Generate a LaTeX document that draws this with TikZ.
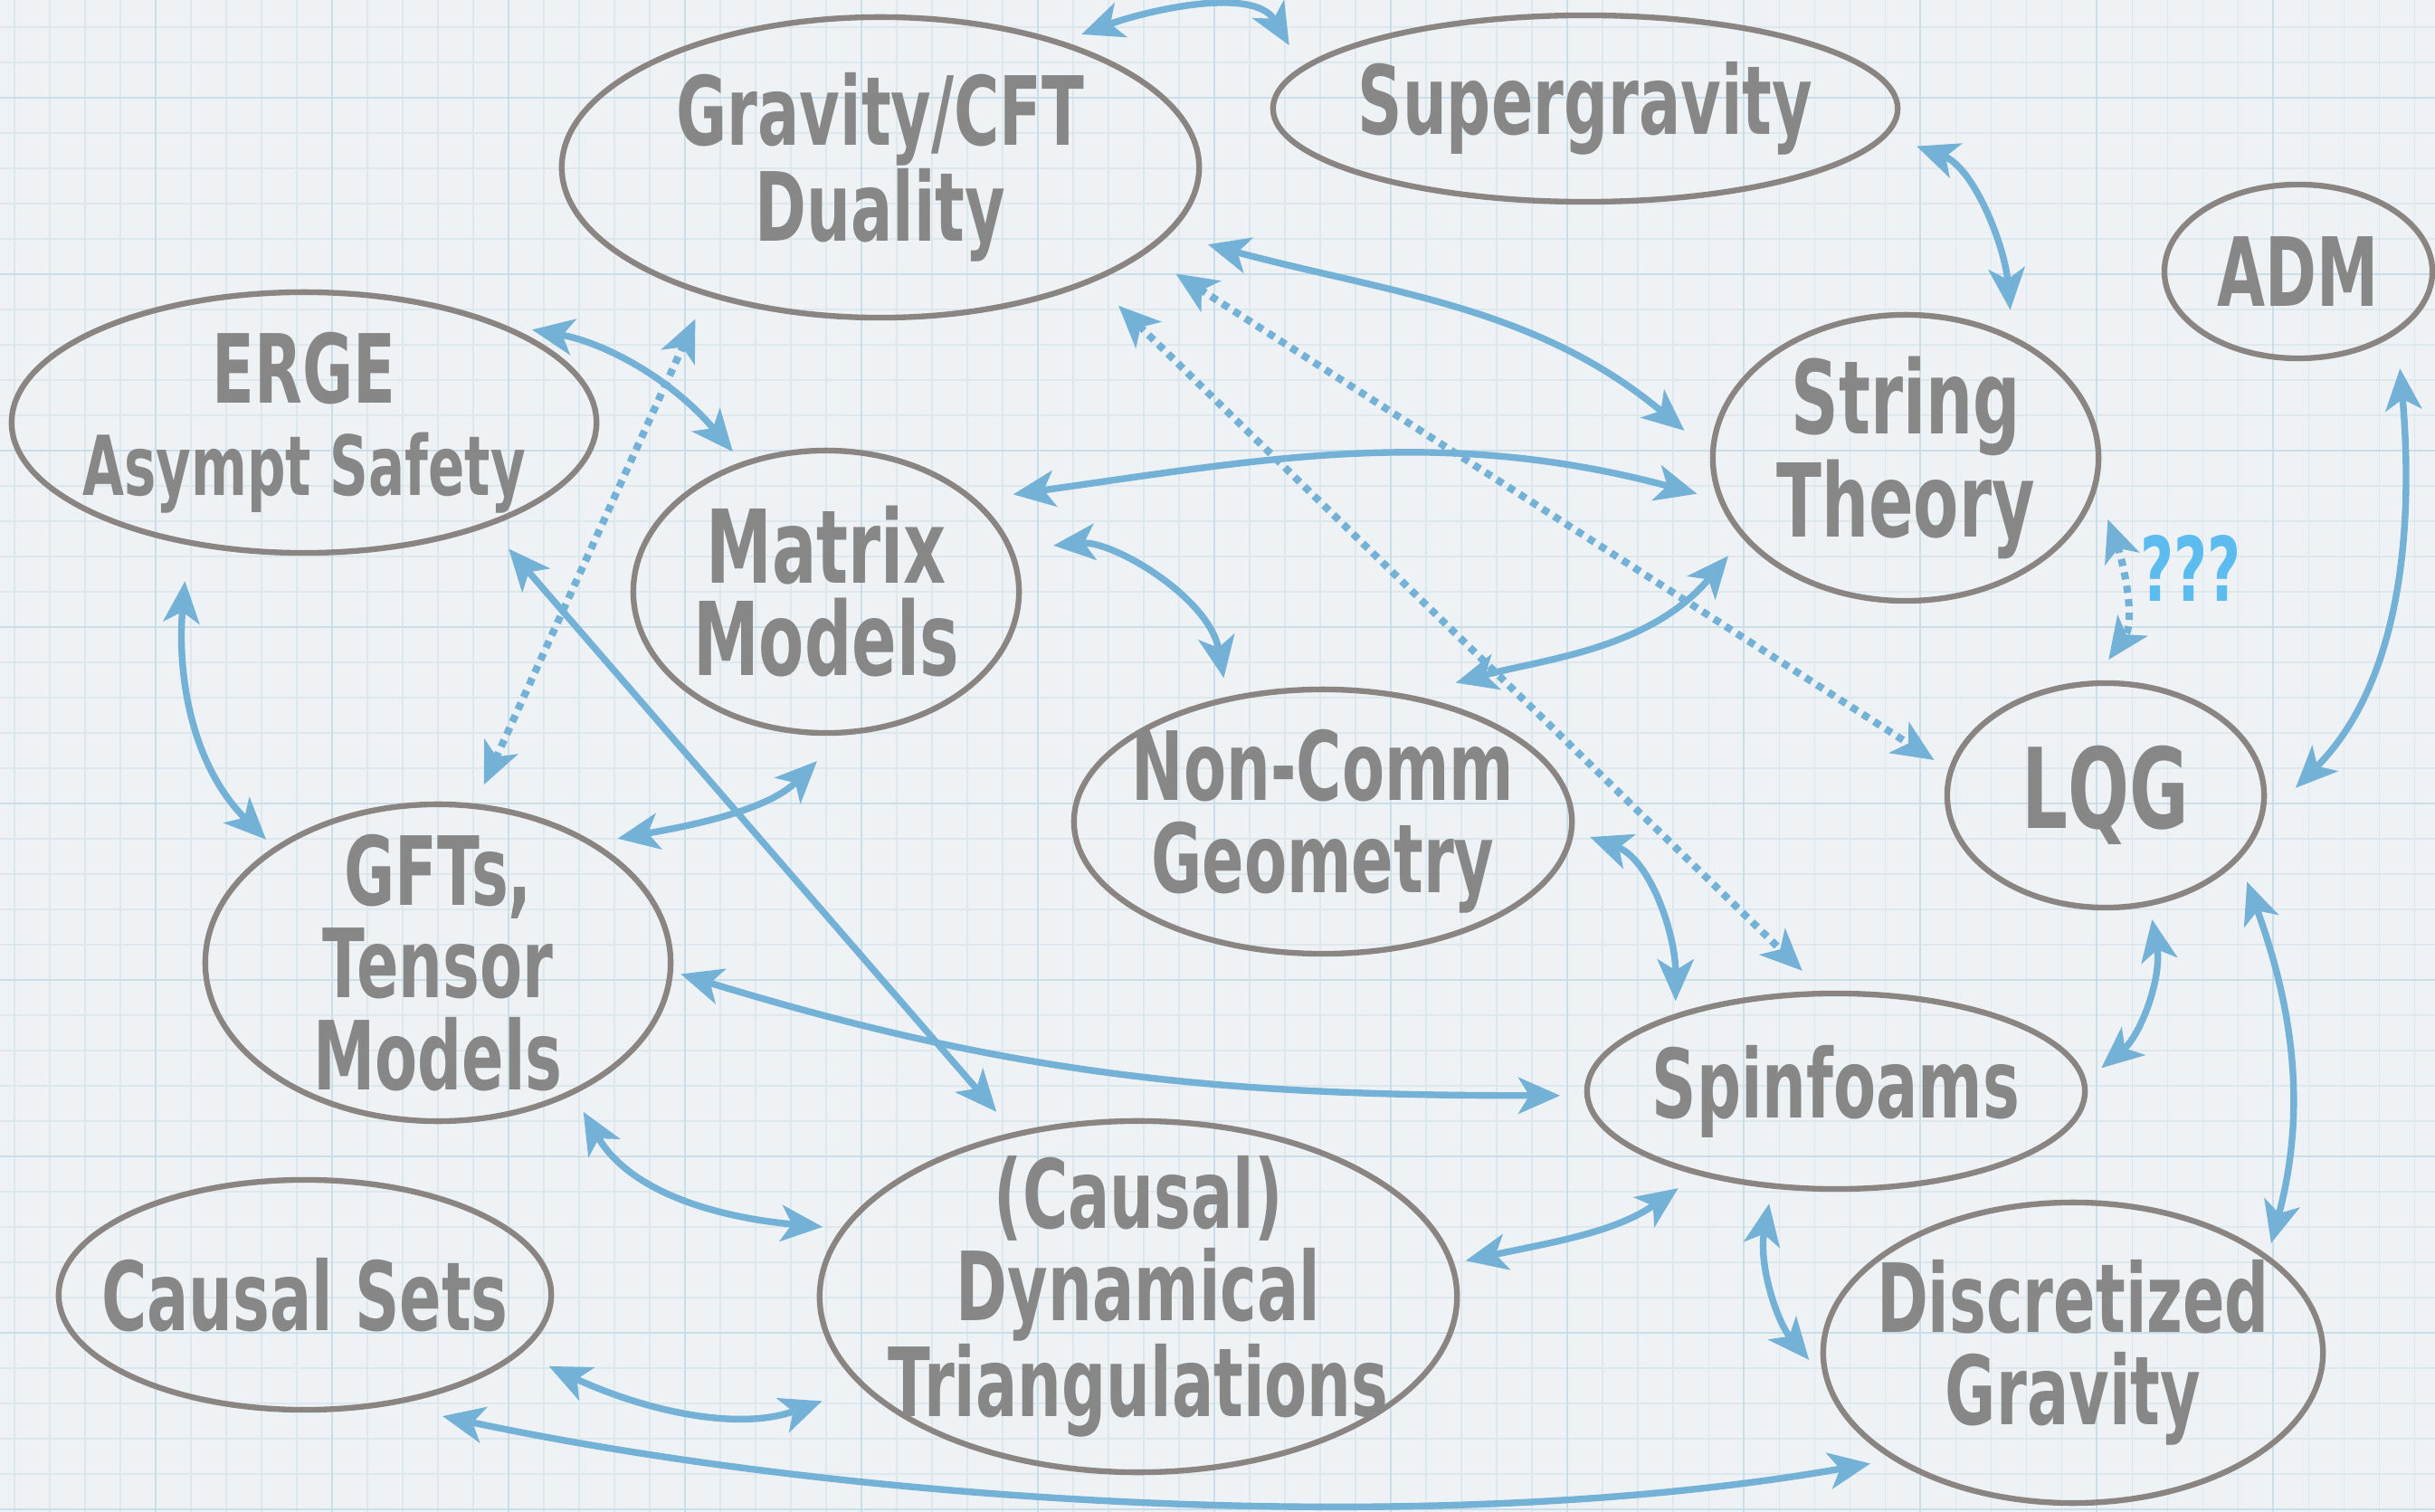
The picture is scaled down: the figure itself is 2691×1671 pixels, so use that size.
\documentclass[tikz,border=0pt]{standalone}
\usepackage{fontspec}
\newfontfamily\handfont{DejaVu Sans}[FakeStretch=0.65]
\usetikzlibrary{arrows.meta,shapes.geometric}
\definecolor{paper}{HTML}{EEF2F4}
\definecolor{gridminor}{HTML}{DDE8ED}
\definecolor{gridmajor}{HTML}{C9DEE8}
\definecolor{rim}{HTML}{8A8582}
\definecolor{ink}{HTML}{878787}
\definecolor{arrowblue}{HTML}{73B1D7}
\definecolor{query}{HTML}{5CBBEF}

\begin{document}
\begin{tikzpicture}[
    x=0.01cm, y=0.01cm,
    >={Stealth[length=0.46cm, width=0.40cm, inset=0.12cm]},
    topic/.style={ellipse, draw=rim, line width=1.8pt, inner sep=-3cm, outer sep=0pt, align=center, text=ink, font=\handfont\bfseries\fontsize{30}{29}\selectfont},
    link/.style={<->, draw=arrowblue, line width=2.1pt},
    hint/.style={link, line width=2.3pt, dash pattern=on 0.08cm off 0.07cm},
    doubt/.style={text=query, inner sep=0pt, font=\handfont\bfseries\fontsize{28}{28}\selectfont}
  ]
    % squared paper
    \useasboundingbox (0,0) rectangle (2691,-1671);
    \fill[paper] (0,0) rectangle (2691,-1671);
    \foreach \gx in {16,55,...,2691} \draw[gridminor, line width=0.3pt] (\gx,0) -- (\gx,-1671);
    \foreach \gy in {30,69,...,1671} \draw[gridminor, line width=0.3pt] (0,-\gy) -- (2691,-\gy);
    \foreach \gx in {172,367,...,2691} \draw[gridmajor, line width=0.7pt] (\gx,0) -- (\gx,-1671);
    \foreach \gy in {108,303,...,1671} \draw[gridmajor, line width=0.7pt] (0,-\gy) -- (2691,-\gy);

    % approaches
    \node[topic, minimum width=7.04cm, minimum height=3.32cm] (grav) at (973,-185) {Gravity/CFT\\Duality};
    \node[topic, minimum width=6.90cm, minimum height=2.06cm] (sugra) at (1752,-120) {Supergravity};
    \node[topic, minimum width=6.46cm, minimum height=2.88cm] (erge) at (336,-467) {ERGE\\{\fontsize{26}{29}\selectfont Asympt Safety}};
    \node[topic, minimum width=4.26cm, minimum height=3.12cm, font=\handfont\bfseries\fontsize{32}{29}\selectfont] (matrix) at (913,-654) {Matrix\\Models};
    \node[topic, minimum width=4.26cm, minimum height=3.16cm, font=\handfont\bfseries\fontsize{32}{29}\selectfont] (string) at (2106,-506) {String\\Theory};
    \node[topic, minimum width=2.96cm, minimum height=1.92cm] (adm) at (2540,-300) {ADM};
    \node[topic, minimum width=5.50cm, minimum height=2.92cm] (ncg) at (1462,-908) {Non-Comm\\Geometry};
    \node[topic, minimum width=3.50cm, minimum height=2.48cm, font=\handfont\bfseries\fontsize{35}{29}\selectfont] (lqg) at (2327,-879) {LQG};
    \node[topic, minimum width=5.14cm, minimum height=3.50cm] (gft) at (484,-1064) {GFTs,\\Tensor\\Models};
    \node[topic, minimum width=5.50cm, minimum height=2.16cm] (spin) at (2029,-1206) {Spinfoams};
    \node[topic, minimum width=7.04cm, minimum height=3.88cm] (cdt) at (1258,-1433) {(Causal)\\Dynamical\\Triangulations};
    \node[topic, minimum width=5.44cm, minimum height=2.54cm] (csets) at (337,-1431) {Causal Sets};
    \node[topic, minimum width=5.52cm, minimum height=3.32cm] (disc) at (2291,-1495) {Discretized\\Gravity};

    % relations
    \draw[link, shorten <=0.27cm, shorten >=0.30cm] (grav.35) to[out=20, in=120] (sugra.172);
    \draw[link, shorten <=0.37cm, shorten >=0.32cm] (sugra.-5) to[out=-20, in=95] (string.48);
    \draw[link, shorten <=0.47cm, shorten >=0.41cm] (grav.-13) to[out=-15, in=140] (string.179);
    \draw[link, shorten <=0.45cm, shorten >=0.18cm] (erge.28) to[out=-10, in=130] (matrix.123);
    \draw[link, shorten <=0.45cm, shorten >=0.28cm] (matrix.32) to[out=8, in=165] (string.193);
    \draw[link, shorten <=0.48cm, shorten >=0.24cm] (matrix.13) to[out=5, in=100] (ncg.128);
    \draw[link, shorten <=0.59cm, shorten >=0.28cm] (ncg.57) to[out=15, in=-130] (string.206);
    \draw[link, shorten <=0.43cm, shorten >=0.15cm] (erge.226) to[out=-95, in=135] (gft.145);
    \draw[hint, shorten <=0.26cm, shorten >=0.31cm] (gft.77) -- (grav.216);
    \draw[link, shorten <=0.36cm, shorten >=0.33cm] (erge.-29) -- (cdt.127);
    \draw[link, shorten <=0.30cm, shorten >=0.45cm] (gft.38) to[out=10, in=-135] (matrix.-82);
    \draw[hint, shorten <=0.43cm, shorten >=0.22cm] (grav.-18) -- (lqg.171);
    \draw[hint, shorten <=0.41cm, shorten >=0.36cm] (grav.-28) -- (spin.96);
    \draw[hint, shorten <=0.41cm, shorten >=0.32cm] (string.-8) to[out=-70, in=55]
        node[doubt, pos=0.4, right=0.2cm] (unsure) {???} (lqg.97);
    \draw[link, shorten <=0.42cm, shorten >=0.58cm] (adm.-31) to[out=-85, in=45] (lqg.-11);
    \draw[link, shorten <=0.22cm, shorten >=0.17cm] (ncg.-2) to[out=-20, in=90] (spin.155);
    \draw[link, shorten <=0.18cm, shorten >=0.25cm] (lqg.-68) to[out=-80, in=40] (spin.2);
    \draw[link, shorten <=0.12cm, shorten >=0.30cm] (gft.-2) to[out=-17, in=180] (spin.181);
    \draw[link, shorten <=0.29cm, shorten >=0.17cm] (lqg.-25) to[out=-70, in=75] (disc.26);
    \draw[link, shorten <=0.25cm, shorten >=0.24cm] (gft.-44) to[out=-60, in=175] (cdt.167);
    \draw[link, shorten <=0.16cm, shorten >=0.29cm] (cdt.6) to[out=12, in=-145] (spin.211);
    \draw[link, shorten <=0.20cm, shorten >=0.33cm] (spin.236) to[out=-100, in=130] (disc.187);
    \draw[link, shorten <=0.37cm, shorten >=0.49cm] (csets.-15) to[out=-25, in=-160] (cdt.198);
    \draw[link, shorten <=0.66cm, shorten >=0.29cm, looseness=0.8] (csets.-54) to[out=-12, in=190] (disc.211);
\end{tikzpicture}
\end{document}
